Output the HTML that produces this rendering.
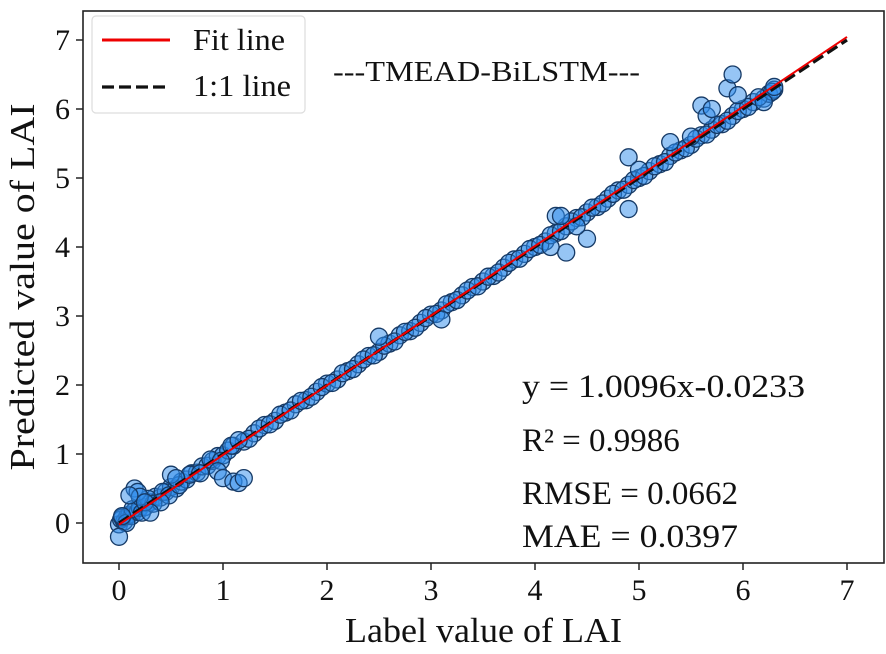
<!DOCTYPE html>
<html><head><meta charset="utf-8"><style>
html,body{margin:0;padding:0;background:#fff;}
svg text{font-family:"Liberation Serif",serif;fill:#111;}
</style></head><body>
<svg id="chart" width="886" height="649" viewBox="0 0 886 649" xmlns="http://www.w3.org/2000/svg">
<g id="pts"></g>
<g id="lines"></g>
<rect x="83" y="11" width="801" height="552" fill="none" stroke="#222" stroke-width="1.6"/>
<g id="xticks"></g>
<g id="yticks"></g>
<text x="345" y="642" font-size="35" textLength="277" lengthAdjust="spacingAndGlyphs">Label value of LAI</text>
<text transform="translate(34,287) rotate(-90)" font-size="35" text-anchor="middle" textLength="367" lengthAdjust="spacingAndGlyphs">Predicted value of LAI</text>
<g>
<rect x="92" y="16" width="213" height="97" rx="4" fill="#fff" stroke="#ddd" stroke-width="1.2"/>
<line x1="102" y1="40" x2="170" y2="40" stroke="#e00" stroke-width="3"/>
<text x="193" y="50" font-size="31" textLength="92" lengthAdjust="spacingAndGlyphs">Fit line</text>
<line x1="102" y1="87" x2="168" y2="87" stroke="#111" stroke-width="3.2" stroke-dasharray="12,5"/>
<text x="193" y="96" font-size="31" textLength="98" lengthAdjust="spacingAndGlyphs">1:1 line</text>
</g>
<text x="333" y="81" font-size="29" textLength="307" lengthAdjust="spacingAndGlyphs">---TMEAD-BiLSTM---</text>
<g font-size="33">
<text x="522" y="397" textLength="283" lengthAdjust="spacingAndGlyphs">y = 1.0096x-0.0233</text>
<text x="522" y="451">R² = 0.9986</text>
<text x="522" y="504" textLength="216" lengthAdjust="spacingAndGlyphs">RMSE = 0.0662</text>
<text x="522" y="547" textLength="216" lengthAdjust="spacingAndGlyphs">MAE = 0.0397</text>
</g>
</svg>
<script>
const labels=[0,0.02,0.05,0.08,0.1,0.12,0.15,0.18,0.2,0.25,0.3,0.35,0.4,0.45,0.5,0.55,0.6,0.65,0.7,0.75,0.8,0.85,0.9,0.95,1.0,1.05,1.1,1.2,1.3,1.4,1.5,1.6,1.7,1.8,1.9,2.0,2.1,2.2,2.3,2.4,2.5,2.6,2.7,2.8,2.9,3.0,3.1,3.2,3.3,3.4,3.5,3.6,3.7,3.8,3.9,4.0,4.1,4.2,4.3,4.4,4.5,4.6,4.7,4.8,4.9,5.0,5.1,5.2,5.3,5.4,5.5,5.6,5.7,5.8,5.9,6.0,6.1,6.2,6.25,6.3,
1.25,1.35,1.45,1.55,1.65,1.75,1.85,1.95,2.05,2.15,2.25,2.35,2.45,2.55,2.65,2.75,2.85,2.95,3.05,3.15,3.25,3.35,3.45,3.55,3.65,3.75,3.85,3.95,4.05,4.15,4.25,4.35,4.45,4.55,4.65,4.75,4.85,4.95,5.05,5.15,5.25,5.35,5.45,5.55,5.65,5.75,5.85,5.95,6.05,6.15,6.28,
0.03,0.07,0.13,0.22,0.28,0.33,0.42,0.48,0.58,0.68,0.78,0.88,0.98,1.08,1.15,
0,0.03,0.15,0.18,0.2,0.25,0.5,0.55,0.95,1.0,1.1,1.15,1.2,2.5,4.2,4.25,4.3,4.5,4.9,4.9,5.0,5.3,5.6,5.85,5.9,5.95,6.2,6.3,0.4,3.1,5.5,5.65,5.7,4.4,4.15,0.1,0.3];
const preds=[-0.02,0.05,0.02,0.1,0.12,0.1,0.18,0.16,0.22,0.23,0.3,0.38,0.37,0.45,0.52,0.5,0.6,0.63,0.72,0.73,0.82,0.83,0.9,0.97,0.98,1.05,1.12,1.18,1.3,1.42,1.48,1.6,1.72,1.78,1.9,2.02,2.08,2.2,2.3,2.42,2.48,2.6,2.72,2.78,2.9,3.02,3.08,3.2,3.3,3.42,3.5,3.58,3.7,3.82,3.9,4.0,4.08,4.2,4.3,4.42,4.5,4.58,4.7,4.82,4.9,5.0,5.1,5.2,5.32,5.4,5.48,5.62,5.7,5.78,5.9,6.0,6.1,6.15,6.22,6.28,
1.22,1.37,1.43,1.57,1.63,1.77,1.83,1.97,2.03,2.17,2.23,2.37,2.43,2.57,2.63,2.77,2.83,2.97,3.03,3.17,3.23,3.37,3.43,3.57,3.63,3.77,3.83,3.97,4.03,4.17,4.23,4.37,4.43,4.57,4.63,4.77,4.83,4.97,5.03,5.17,5.23,5.37,5.43,5.57,5.63,5.77,5.83,5.97,6.03,6.17,6.25,
0.08,0.0,0.2,0.15,0.35,0.28,0.45,0.4,0.55,0.7,0.72,0.92,0.9,1.12,1.2,
-0.2,0.1,0.5,0.45,0.38,0.3,0.7,0.65,0.75,0.65,0.6,0.58,0.65,2.7,4.45,4.45,3.92,4.12,5.3,4.55,5.12,5.52,6.05,6.3,6.5,6.2,6.1,6.32,0.3,2.95,5.6,5.9,6.0,4.3,4.0,0.4,0.15];
const xTicks=[0,1,2,3,4,5,6,7];
const yTicks=[0,1,2,3,4,5,6,7];
const fitSlope=1.0096, fitIntercept=-0.0233;
const NS="http://www.w3.org/2000/svg";
const sx=v=>119+v*104, sy=v=>523-v*69;
function mk(tag,attrs,parent){const e=document.createElementNS(NS,tag);for(const k in attrs)e.setAttribute(k,attrs[k]);parent.appendChild(e);return e;}
const pts=document.getElementById('pts');
labels.forEach((x,i)=>{
  const c=mk('circle',{cx:sx(x),cy:sy(preds[i]),r:8.5,fill:'rgba(45,140,235,0.5)',stroke:'#163a66','stroke-width':1.3},pts);
  
  
});
const lines=document.getElementById('lines');
const l1=mk('line',{x1:sx(0),y1:sy(0),x2:sx(7),y2:sy(7),stroke:'#111','stroke-width':3.2,'stroke-dasharray':'12,5'},lines);


const l2=mk('line',{x1:sx(0),y1:sy(fitIntercept),x2:sx(7),y2:sy(fitSlope*7+fitIntercept),stroke:'#e00','stroke-width':2},lines);


const xg=document.getElementById('xticks');
xTicks.forEach(t=>{
  mk('line',{x1:sx(t),y1:563,x2:sx(t),y2:570,stroke:'#222','stroke-width':1.5},xg);
  const tx=mk('text',{x:sx(t),y:600,'font-size':30,'text-anchor':'middle'},xg);tx.textContent=t;
  
  
});
const yg=document.getElementById('yticks');
yTicks.forEach(t=>{
  mk('line',{x1:76,y1:sy(t),x2:83,y2:sy(t),stroke:'#222','stroke-width':1.5},yg);
  const tx=mk('text',{x:70,y:sy(t)+10,'font-size':30,'text-anchor':'end'},yg);tx.textContent=t;
  
  
});
</script>
</body></html>
